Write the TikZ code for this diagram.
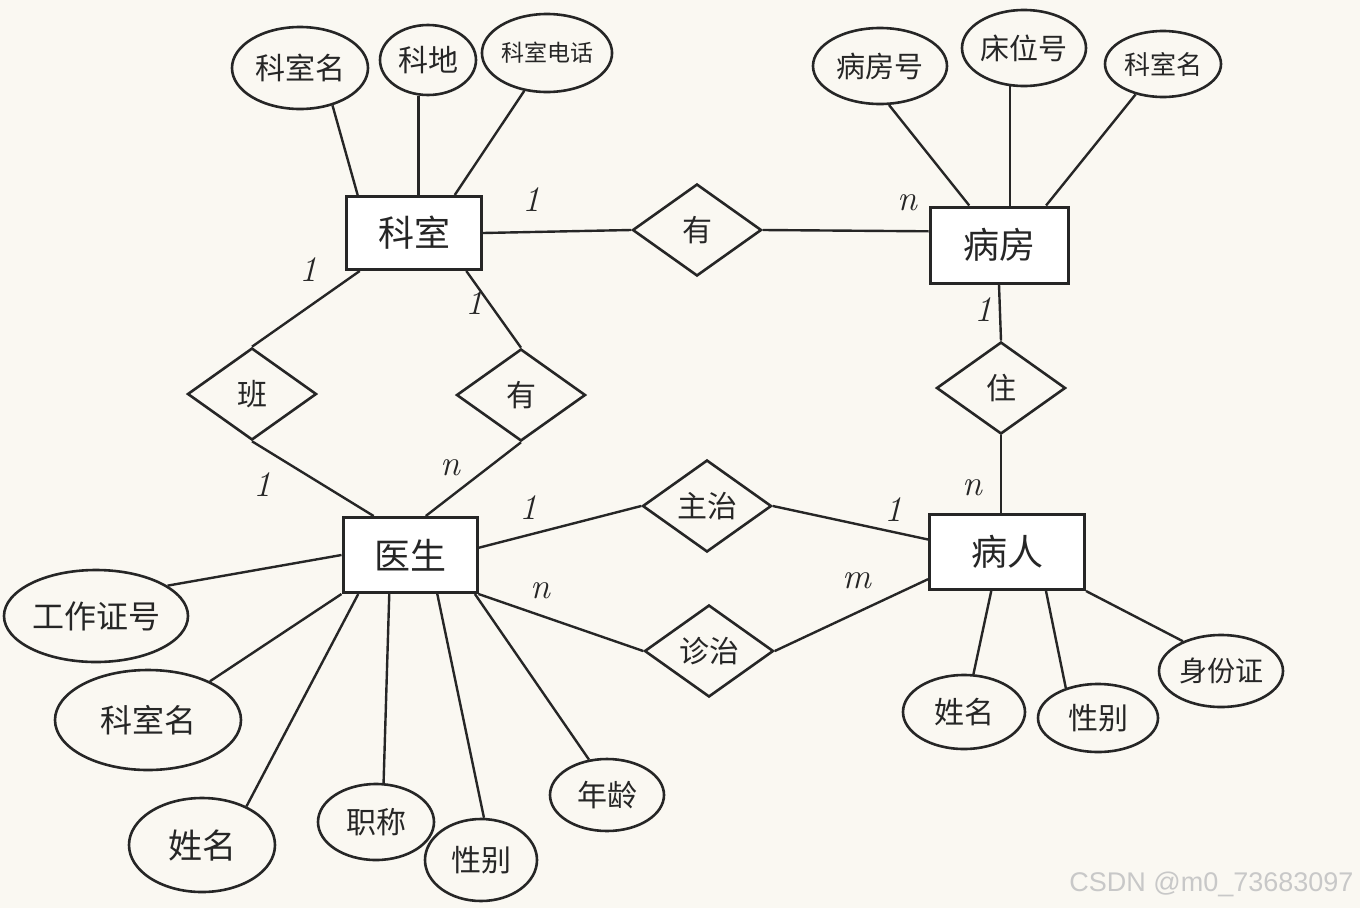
\documentclass[tikz,border=0pt]{standalone}
\usepackage{fontspec}
\usepackage{tikz}
\usetikzlibrary{shapes.geometric}
\newfontfamily\cjk{Noto Sans CJK SC}
\newfontfamily\wmfont{Liberation Sans}
\definecolor{paper}{HTML}{FAF8F2}
\definecolor{ink}{HTML}{262626}
\definecolor{wmgray}{HTML}{C8C8C8}

\tikzset{
    entity/.style={draw=ink, fill=white, line width=3pt, inner sep=0pt,
        font=\cjk\fontsize{36}{36}\selectfont, text=ink},
    attr/.style={draw=ink, ellipse, line width=2.6pt, inner sep=0pt, text=ink},
    rel/.style={draw=ink, diamond, line width=2.6pt, inner sep=0pt,
        minimum width=129pt, minimum height=92pt,
        font=\cjk\fontsize{30}{30}\selectfont, text=ink},
    card/.style={font=\itshape\fontsize{36}{36}\selectfont, text=ink},
    link/.style={draw=ink, line width=2.4pt}
}

\begin{document}
\begin{tikzpicture}[x=1pt,y=-1pt]
            \fill[paper] (0,0) rectangle (1360,908);
            \useasboundingbox (0,0) rectangle (1360,908);

            \node[entity, minimum width=135pt, minimum height=73pt] (ks) at (414,233) {科室};
            \node[entity, minimum width=138pt, minimum height=76pt] (bf) at (999,245) {病房};
            \node[entity, minimum width=134pt, minimum height=75pt] (ys) at (410,555) {医生};
            \node[entity, minimum width=155pt, minimum height=75pt] (br) at (1007,552) {病人};

            \node[rel] (youa) at (697,230) {有};
            \node[rel] (ban) at (252,394) {班};
            \node[rel] (youb) at (521,395) {有};
            \node[rel] (zhu) at (1001,388) {住};
            \node[rel] (zz) at (707,506) {主治};
            \node[rel] (zl) at (709,651) {诊治};

            \foreach \n/\x/\y/\w/\h/\s/\t in {
                ksma/300/68/136/82/30/科室名,
                kdi/428/60/96/70/30/科地,
                kdh/547/53/110/78/23/科室电话,
                bfh/880/66/134/76/29/病房号,
                cwh/1024/48/124/76/29/床位号,
                ksmb/1163/64/116/66/26/科室名,
                gzzh/96/616/184/92/32/工作证号,
                ksmc/148/720/186/100/32/科室名,
                xma/202/845/146/94/34/姓名,
                zc/376/822/116/76/30/职称,
                xba/481/860/112/82/30/性别,
                nl/607/795/114/72/30/年龄,
                xmb/964/712/122/74/30/姓名,
                xbb/1098/718/120/68/30/性别,
                sfz/1221/671/124/72/28/身份证}{
                \node[attr, minimum width=\w pt, minimum height=\h pt,
                    font=\cjk\fontsize{\s}{\s}\selectfont] (\n) at (\x,\y) {\t};
            }

            \draw[link] (ksma.-49) -- (ks.146);
            \draw[link] (kdi.-105) -- (kdi.-105 |- ks.north);
            \draw[link] (kdh.-121) -- (ks.43);
            \draw[link] (bfh.-77) -- (bf.127);
            \draw[link] (cwh.-110) -- (cwh.-110 |- bf.north);
            \draw[link] (ksmb.-132) -- (bf.40);

            \draw[link] (ks.east) -- (youa.west);
            \draw[link] (youa.east) -- (bf.169);
            \draw[link] (ks.-145) -- (ban.north);
            \draw[link] (ks.-36) -- (youb.north);
            \draw[link] (ban.south) -- (ys.133);
            \draw[link] (youb.south) -- (ys.68);
            \draw[link] (bf.south) -- (zhu.north);
            \draw[link] (zhu.south) -- (zhu.south |- br.north);
            \draw[link] (ys.6) -- (zz.west);
            \draw[link] (zz.east) -- (br.171);
            \draw[link] (ys.south east) -- (zl.west);
            \draw[link] (zl.east) -- (br.199);

            \draw[link] (ys.west) -- (gzzh.23);
            \draw[link] (ys.south west) -- (ksmc.32);
            \draw[link] (ys.-143) -- (xma.41);
            \draw[link] (ys.-118) -- (zc.79);
            \draw[link] (ys.-55) -- (xba.86);
            \draw[link] (ys.-31) -- (nl.117);
            \draw[link] (br.-112) -- (xmb.76);
            \draw[link] (br.-45) -- (xbb.137);
            \draw[link] (br.south east) -- (sfz.142);

            \node[card] (ca) at (531,200) {1};
            \node[card] (cb) at (907,203) {n};
            \node[card] (cc) at (308,270) {1};
            \node[card] (cd) at (474,303) {1};
            \node[card] (ce) at (262,485) {1};
            \node[card] (cf) at (450,468) {n};
            \node[card] (cg) at (983,310) {1};
            \node[card] (ch) at (972,488) {n};
            \node[card] (ci) at (528,508) {1};
            \node[card] (cj) at (893,510) {1};
            \node[card] (ck) at (540,591) {n};
            \node[card] (cl) at (857,581) {m};

            \node[anchor=east, font=\wmfont\fontsize{27}{27}\selectfont, text=wmgray] (wm) at (1357,884) {CSDN @m0\_73683097};
        \end{tikzpicture}
\end{document}
